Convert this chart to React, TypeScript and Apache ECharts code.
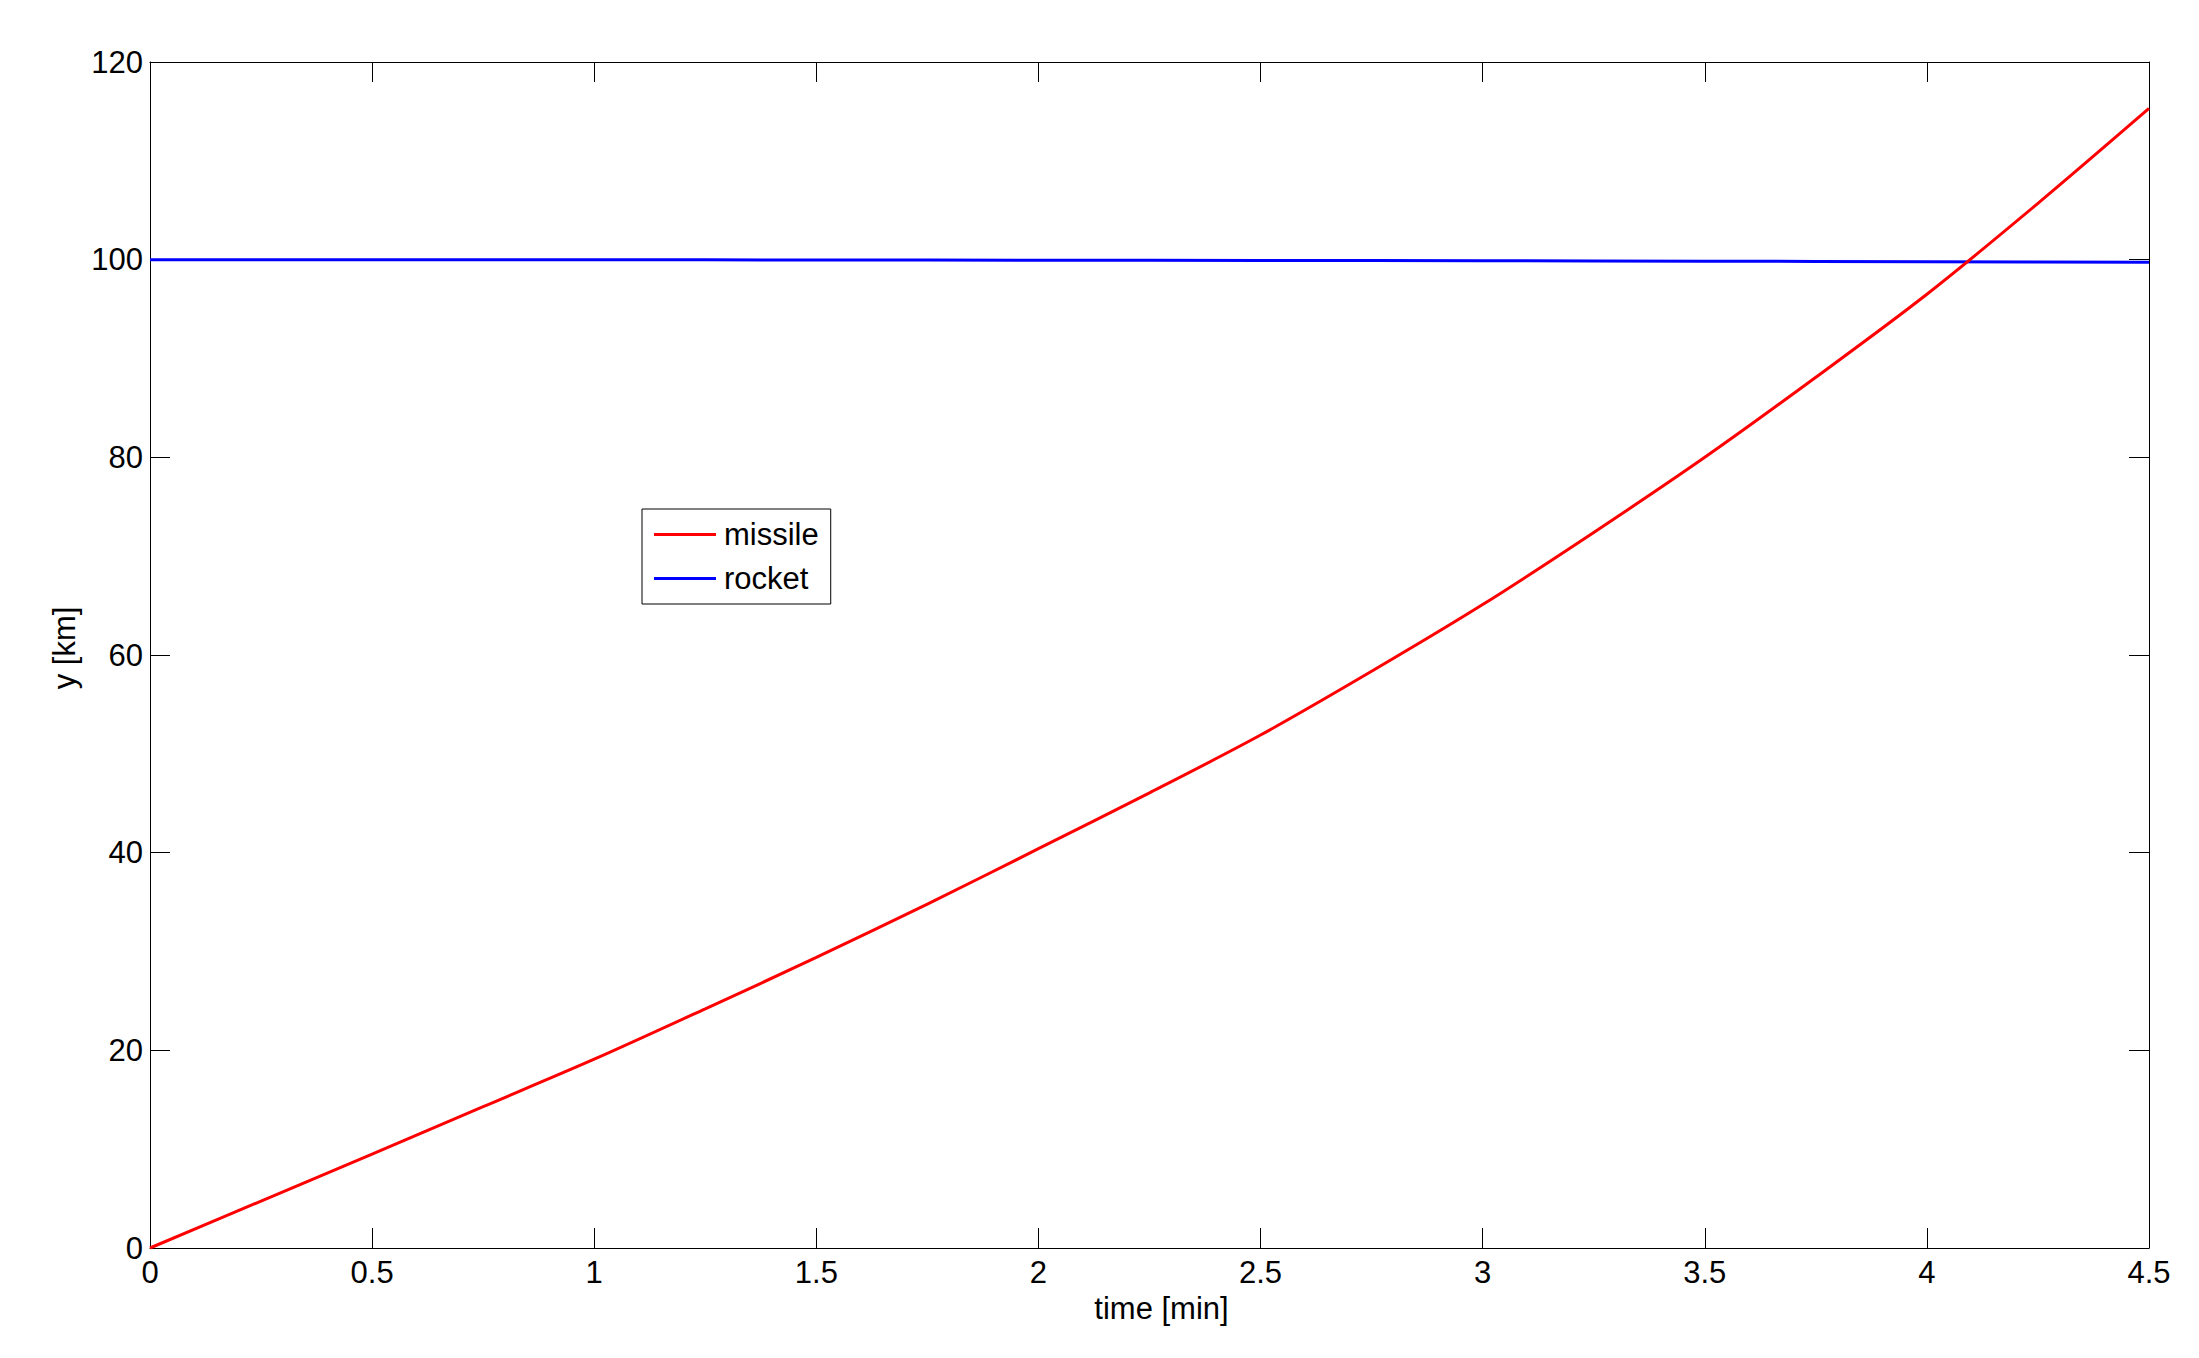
import React, { useEffect, useRef } from "react";
import * as echarts from "echarts";

const timeMin = [0, 0.25, 0.5, 0.75, 1, 1.25, 1.5, 1.75, 2, 2.25, 2.5, 2.75, 3, 3.25, 3.5, 3.75, 4, 4.25, 4.5];
const missileKm = [0, 4.75, 9.5, 14.3, 19.1, 24.2, 29.4, 34.8, 40.4, 46.05, 51.9, 58.35, 65.1, 72.4, 80.0, 88.1, 96.5, 105.7, 115.3];
const rocketKm = [100, 99.999, 99.997, 99.993, 99.987, 99.98, 99.972, 99.962, 99.95, 99.937, 99.922, 99.905, 99.887, 99.868, 99.847, 99.824, 99.8, 99.774, 99.747];
const seriesNames = ["missile", "rocket"];
const xTicks = { min: 0, max: 4.5, interval: 0.5 };
const yTicks = { min: 0, max: 120, interval: 20 };

const FONT = "'Liberation Sans', Arial, Helvetica, sans-serif";

export default function App() {
  const ref = useRef<HTMLDivElement>(null);
  useEffect(() => {
    if (!ref.current) return;
    const chart = echarts.init(ref.current, undefined, { renderer: "svg" });
    const axisCommon = {
      axisLine: { show: true, onZero: false, lineStyle: { color: "#000", width: 1 } },
      axisTick: { show: true, inside: true, length: 20, lineStyle: { color: "#000", width: 1 } },
      splitLine: { show: false },
    };
    chart.setOption({
      animation: false,
      backgroundColor: "#fff",
      textStyle: { fontFamily: FONT },
      grid: { left: 150, right: 50, top: 62, bottom: 110, containLabel: false },
      legend: {
        orient: "vertical",
        left: 642,
        top: 509,
        data: seriesNames,
        icon: "rect",
        itemWidth: 62,
        itemHeight: 3,
        itemGap: 13,
        padding: [10, 12, 10, 12],
        borderColor: "#000",
        borderWidth: 1,
        backgroundColor: "#fff",
        textStyle: { fontFamily: FONT, fontSize: 31, color: "#000", padding: [0, 0, 0, 3] },
      },
      xAxis: [
        {
          type: "value",
          position: "bottom",
          ...xTicks,
          ...axisCommon,
          name: "time [min]",
          nameLocation: "middle",
          nameGap: 38,
          nameTextStyle: { fontFamily: FONT, fontSize: 31, color: "#000", padding: [0, 0, 0, 24] },
          axisLabel: { fontFamily: FONT, fontSize: 31, color: "#000", margin: 9 },
        },
        {
          type: "value",
          position: "top",
          ...xTicks,
          ...axisCommon,
          axisLabel: { show: false },
        },
      ],
      yAxis: [
        {
          type: "value",
          position: "left",
          ...yTicks,
          ...axisCommon,
          name: "y [km]",
          nameLocation: "middle",
          nameGap: 70,
          nameRotate: 90,
          nameTextStyle: { fontFamily: FONT, fontSize: 31, color: "#000", padding: [0, 0, 0, 14] },
          axisLabel: { fontFamily: FONT, fontSize: 31, color: "#000", margin: 7 },
        },
        {
          type: "value",
          position: "right",
          ...yTicks,
          ...axisCommon,
          axisLabel: { show: false },
        },
      ],
      series: [
        {
          name: seriesNames[0],
          type: "line",
          data: timeMin.map((t, i) => [t, missileKm[i]]),
          showSymbol: false,
          symbol: "none",
          smooth: 0.3,
          z: 3,
          color: "#ff0000",
          lineStyle: { color: "#ff0000", width: 3 },
        },
        {
          name: seriesNames[1],
          type: "line",
          data: timeMin.map((t, i) => [t, rocketKm[i]]),
          showSymbol: false,
          symbol: "none",
          z: 2,
          color: "#0000ff",
          lineStyle: { color: "#0000ff", width: 3 },
        },
      ],
    });
    return () => chart.dispose();
  }, []);
  return (
    <div
      ref={ref}
      style={{ position: "fixed", left: 0, top: 0, width: 2199, height: 1358, background: "#fff" }}
    />
  );
}
